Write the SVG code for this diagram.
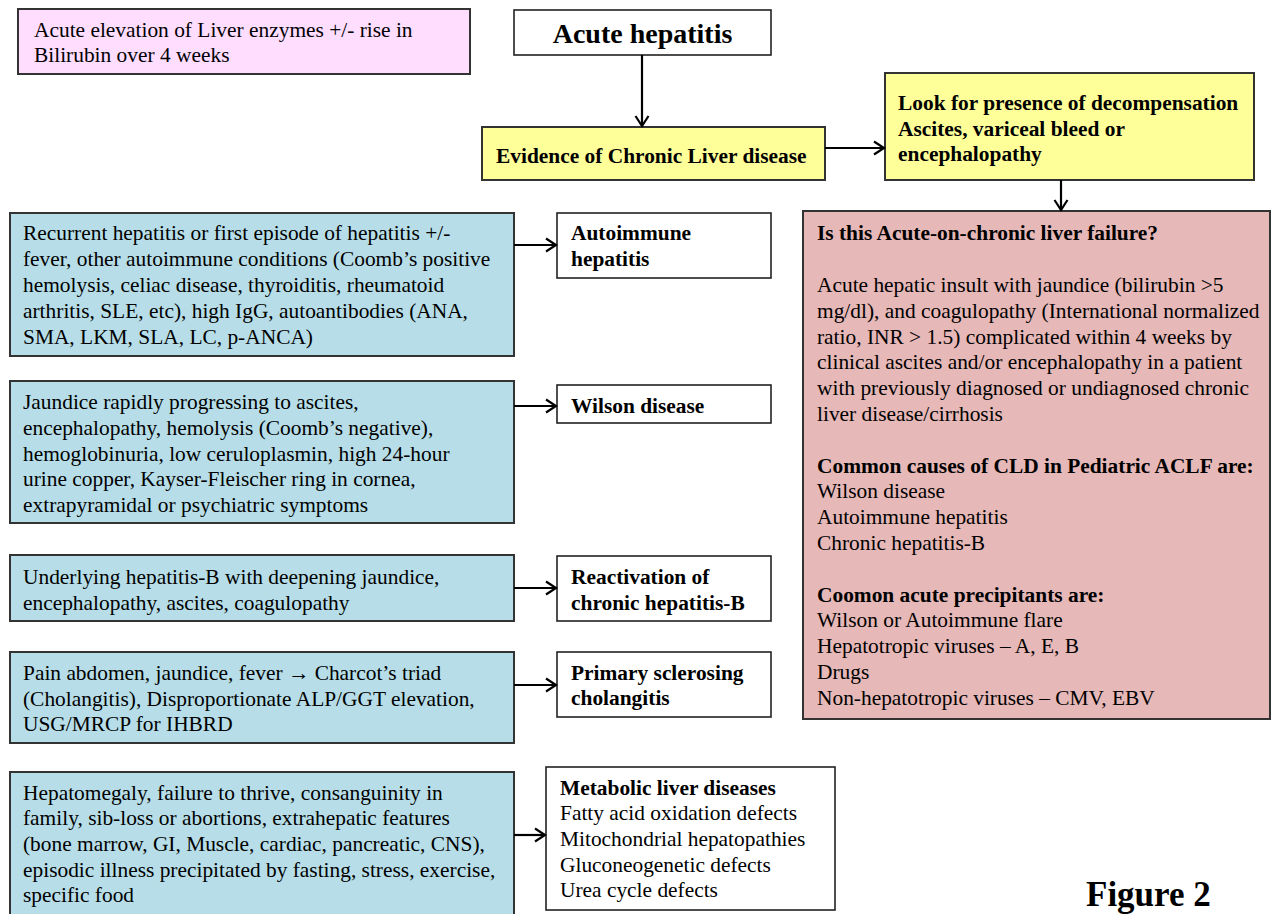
<svg xmlns="http://www.w3.org/2000/svg" width="1272" height="914" viewBox="0 0 1272 914">
<style>
text{font-family:"Liberation Serif","Times New Roman",serif;font-size:21.4px;fill:#000}
.b{font-weight:bold}
.box{stroke:#333;stroke-width:2}
.pink{fill:#FFDDFF}
.yel{fill:#FFFF99}
.blue{fill:#B7DEE8}
.red{fill:#E6B8B7}
.wht{fill:#fff;stroke:#222;stroke-width:1.6}
.con line{stroke:#000;stroke-width:2.2;marker-end:url(#arr)}
</style>
<defs>
<marker id="arr" markerUnits="userSpaceOnUse" markerWidth="14" markerHeight="16" refX="12" refY="8" orient="auto">
<path d="M2,1.5 L12,8 L2,14.5" fill="none" stroke="#000" stroke-width="2.2"/>
</marker>
</defs>
<rect width="1272" height="914" fill="#fff"/>

<g id="n-def">
<rect class="box pink" x="18" y="9" width="452" height="65"/>
<text x="34" y="37">Acute elevation of Liver enzymes +/- rise in</text>
<text x="34" y="62">Bilirubin over 4 weeks</text>
</g>

<g id="n-acute">
<rect class="wht" x="514" y="10" width="257" height="45"/>
<text class="b" x="642.5" y="43" text-anchor="middle" style="font-size:28px">Acute hepatitis</text>
</g>

<g id="n-cld">
<rect class="box yel" x="482" y="127" width="343" height="53"/>
<text class="b" x="496" y="163">Evidence of Chronic Liver disease</text>
</g>

<g id="n-decomp">
<rect class="box yel" x="885" y="73" width="369" height="107"/>
<text class="b" x="898" y="110">Look for presence of decompensation</text>
<text class="b" x="898" y="136">Ascites, variceal bleed or</text>
<text class="b" x="898" y="161">encephalopathy</text>
</g>

<g id="n-aclf">
<rect class="box red" x="803" y="211" width="467" height="508"/>
<text class="b" x="817" y="240">Is this Acute-on-chronic liver failure?</text>
<text x="817" y="292">Acute hepatic insult with jaundice (bilirubin &gt;5</text>
<text x="817" y="318">mg/dl), and coagulopathy (International normalized</text>
<text x="817" y="344">ratio, INR &gt; 1.5) complicated within 4 weeks by</text>
<text x="817" y="369">clinical ascites and/or encephalopathy in a patient</text>
<text x="817" y="395">with previously diagnosed or undiagnosed chronic</text>
<text x="817" y="421">liver disease/cirrhosis</text>
<text class="b" x="817" y="473">Common causes of CLD in Pediatric ACLF are:</text>
<text x="817" y="498">Wilson disease</text>
<text x="817" y="524">Autoimmune hepatitis</text>
<text x="817" y="550">Chronic hepatitis-B</text>
<text class="b" x="817" y="602">Coomon acute precipitants are:</text>
<text x="817" y="627">Wilson or Autoimmune flare</text>
<text x="817" y="653">Hepatotropic viruses – A, E, B</text>
<text x="817" y="679">Drugs</text>
<text x="817" y="705">Non-hepatotropic viruses – CMV, EBV</text>
</g>

<g id="n-b1">
<rect class="box blue" x="10" y="213" width="504" height="143"/>
<text x="23" y="240">Recurrent hepatitis or first episode of hepatitis +/-</text>
<text x="23" y="266">fever, other autoimmune conditions (Coomb’s positive</text>
<text x="23" y="292">hemolysis, celiac disease, thyroiditis, rheumatoid</text>
<text x="23" y="318">arthritis, SLE, etc), high IgG, autoantibodies (ANA,</text>
<text x="23" y="344">SMA, LKM, SLA, LC, p-ANCA)</text>
</g>
<g id="n-aih">
<rect class="wht" x="557" y="213" width="214" height="65"/>
<text class="b" x="571" y="240">Autoimmune</text>
<text class="b" x="571" y="266">hepatitis</text>
</g>

<g id="n-b2">
<rect class="box blue" x="10" y="381" width="504" height="142"/>
<text x="23" y="409">Jaundice rapidly progressing to ascites,</text>
<text x="23" y="435">encephalopathy, hemolysis (Coomb’s negative),</text>
<text x="23" y="461">hemoglobinuria, low ceruloplasmin, high 24-hour</text>
<text x="23" y="486">urine copper, Kayser-Fleischer ring in cornea,</text>
<text x="23" y="512">extrapyramidal or psychiatric symptoms</text>
</g>
<g id="n-wilson">
<rect class="wht" x="557" y="385" width="214" height="38"/>
<text class="b" x="571" y="413">Wilson disease</text>
</g>

<g id="n-b3">
<rect class="box blue" x="10" y="555" width="504" height="66"/>
<text x="23" y="584">Underlying hepatitis-B with deepening jaundice,</text>
<text x="23" y="610">encephalopathy, ascites, coagulopathy</text>
</g>
<g id="n-hbv">
<rect class="wht" x="557" y="556" width="214" height="65"/>
<text class="b" x="571" y="584">Reactivation of</text>
<text class="b" x="571" y="610">chronic hepatitis-B</text>
</g>

<g id="n-b4">
<rect class="box blue" x="10" y="652" width="504" height="91"/>
<text x="23" y="680">Pain abdomen, jaundice, fever <tspan style="font-weight:bold">→</tspan> Charcot’s triad</text>
<text x="23" y="706">(Cholangitis), Disproportionate ALP/GGT elevation,</text>
<text x="23" y="731">USG/MRCP for IHBRD</text>
</g>
<g id="n-psc">
<rect class="wht" x="557" y="652" width="214" height="65"/>
<text class="b" x="571" y="680">Primary sclerosing</text>
<text class="b" x="571" y="705">cholangitis</text>
</g>

<g id="n-b5">
<rect class="box blue" x="10" y="772" width="504" height="146"/>
<text x="23" y="800">Hepatomegaly, failure to thrive, consanguinity in</text>
<text x="23" y="825">family, sib-loss or abortions, extrahepatic features</text>
<text x="23" y="851">(bone marrow, GI, Muscle, cardiac, pancreatic, CNS),</text>
<text x="23" y="877">episodic illness precipitated by fasting, stress, exercise,</text>
<text x="23" y="902">specific food</text>
</g>
<g id="n-metab">
<rect class="wht" x="546" y="767" width="289" height="143"/>
<text class="b" x="560" y="795">Metabolic liver diseases</text>
<text x="560" y="820">Fatty acid oxidation defects</text>
<text x="560" y="846">Mitochondrial hepatopathies</text>
<text x="560" y="872">Gluconeogenetic defects</text>
<text x="560" y="897">Urea cycle defects</text>
</g>

<g id="connectors" class="con">
<line x1="642" y1="55" x2="642" y2="126"/>
<line x1="825" y1="148" x2="884" y2="148"/>
<line x1="1061" y1="180" x2="1061" y2="210"/>
<line x1="514" y1="245" x2="556" y2="245"/>
<line x1="514" y1="406" x2="556" y2="406"/>
<line x1="514" y1="588" x2="556" y2="588"/>
<line x1="514" y1="685" x2="556" y2="685"/>
<line x1="514" y1="835" x2="545" y2="835"/>
</g>

<text class="b" x="1086" y="906" style="font-size:35px">Figure 2</text>
</svg>
